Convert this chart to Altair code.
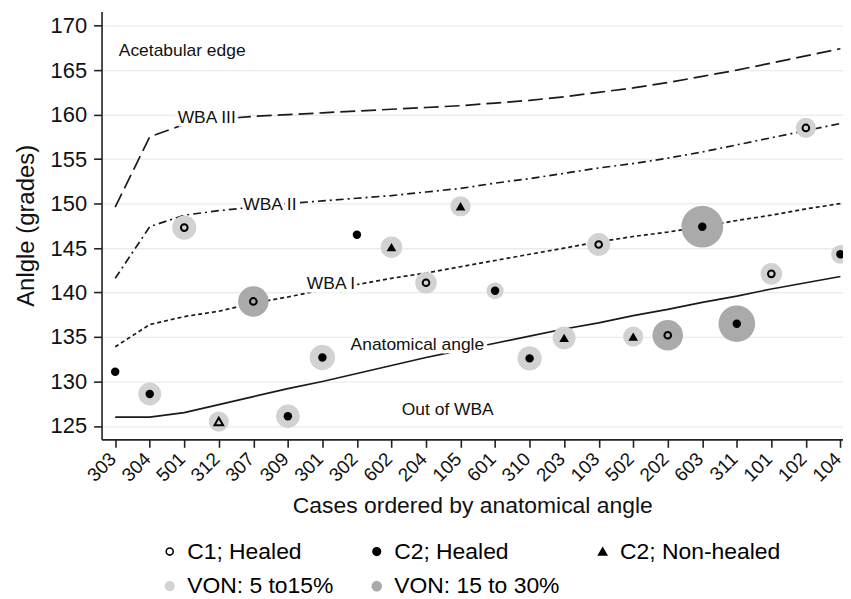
import altair as alt
import pandas as pd

# ---------------- data ----------------
cases = ["303", "304", "501", "312", "307", "309", "301", "302", "602", "204", "105",
         "601", "310", "203", "103", "502", "202", "603", "311", "101", "102", "104"]

anatomical = [126.0, 126.0, 126.5, 127.4, 128.3, 129.2, 130.0, 130.9, 131.8, 132.7, 133.5,
              134.3, 135.1, 135.9, 136.6, 137.4, 138.1, 138.9, 139.6, 140.4, 141.1, 141.8]
wba1 = [133.9, 136.4, 137.3, 137.9, 138.8, 139.5, 140.3, 140.9, 141.6, 142.2, 142.9,
        143.6, 144.3, 145.0, 145.7, 146.3, 146.8, 147.4, 148.1, 148.7, 149.4, 150.0]
wba2 = [141.6, 147.4, 148.7, 149.2, 149.6, 150.0, 150.3, 150.6, 150.9, 151.3, 151.7,
        152.3, 152.8, 153.4, 154.0, 154.5, 155.1, 155.8, 156.6, 157.4, 158.2, 159.0]
wba3 = [149.6, 157.5, 158.9, 159.5, 159.8, 160.0, 160.2, 160.4, 160.6, 160.8, 161.0,
        161.3, 161.6, 162.0, 162.5, 163.0, 163.6, 164.3, 165.0, 165.8, 166.6, 167.4]

angle = [131.1, 128.6, 147.3, 125.5, 139.0, 126.1, 132.7, 146.5, 145.1, 141.1, 149.7,
         140.2, 132.6, 134.9, 145.4, 135.05, 135.2, 147.4, 136.5, 142.1, 158.5, 144.3]
status = ["C2; Healed", "C2; Healed", "C1; Healed", "C1; Non-healed", "C1; Healed",
          "C2; Healed", "C2; Healed", "C2; Healed", "C2; Non-healed", "C1; Healed",
          "C2; Non-healed", "C2; Healed", "C2; Healed", "C2; Non-healed", "C1; Healed",
          "C2; Non-healed", "C1; Healed", "C2; Healed", "C2; Healed", "C1; Healed",
          "C1; Healed", "C2; Healed"]
von = [0, 9, 10, 7, 16, 9.5, 11, 0, 8, 8, 7, 5, 10, 9, 9, 7, 16, 30, 23, 8, 7, 6]

ann_text = ["Acetabular edge", "WBA III", "WBA II", "WBA I", "Anatomical angle", "Out of WBA"]
ann_x = [1.94, 2.65, 4.48, 6.25, 8.75, 9.63]
ann_y = [167.16, 159.64, 149.8, 140.95, 134.1, 126.85]

legend_labels = ["C1; Healed", "C2; Healed", "C2; Non-healed", "VON: 5 to15%", "VON: 15 to 30%"]

# ---------------- tables ----------------
idx = list(range(len(cases)))
lines = pd.DataFrame({
    "idx": idx * 4,
    "value": anatomical + wba1 + wba2 + wba3,
    "series": ["Anatomical"] * 22 + ["WBA I"] * 22 + ["WBA II"] * 22 + ["WBA III"] * 22,
})
pts = pd.DataFrame({"idx": idx, "case": cases, "angle": angle, "status": status, "von": von})
ann = pd.DataFrame({"idx": ann_x, "angle": ann_y, "text": ann_text})
leg = pd.DataFrame({"lg": legend_labels})

FONT = "Liberation Sans"
label_arr = "[" + ",".join("'%s'" % c for c in cases) + "]"

X = alt.X("idx:Q",
          scale=alt.Scale(domain=[-0.395, 21.075], nice=False, zero=False),
          axis=alt.Axis(values=idx, labelExpr=label_arr + "[datum.value]", labelAngle=-45,
                        grid=False, title="Cases ordered by anatomical angle",
                        labelFontSize=19, titleFontSize=23, labelPadding=2, titlePadding=10,
                        labelOffset=-9, tickSize=8, labelOverlap=False, labelBound=False,
                        labelFlush=False))
Y_SCALE = alt.Scale(domain=[123.5, 171.6], nice=False, zero=False)
Y_AXIS = alt.Axis(values=list(range(125, 171, 5)), title="Anlgle (grades)", grid=True,
                  labelFontSize=22, titleFontSize=24, tickSize=8, labelPadding=7,
                  titlePadding=12, labelOverlap=False)


def ylin(field):
    return alt.Y(field, scale=Y_SCALE, axis=Y_AXIS)


def line_layer(name, dash):
    m = alt.Chart(lines).transform_filter(alt.datum.series == name)
    kw = dict(color="#1a1a1a", strokeWidth=1.7)
    if dash:
        kw["strokeDash"] = dash
    return m.mark_line(**kw).encode(x=X, y=ylin("value:Q"))


l_anat = line_layer("Anatomical", None)
l_w1 = line_layer("WBA I", [4, 3])
l_w2 = line_layer("WBA II", [8, 4, 2, 4])
l_w3 = line_layer("WBA III", [15, 6])

ann_bg = alt.Chart(ann).mark_text(font=FONT, fontSize=17.5, color="white", stroke="white",
                                  strokeWidth=7).encode(x=X, y=ylin("angle:Q"), text="text:N")
ann_fg = alt.Chart(ann).mark_text(font=FONT, fontSize=17.5, color="#111").encode(
    x=X, y=ylin("angle:Q"), text="text:N")

halo_base = alt.Chart(pts).transform_filter("datum.von > 0")
SIZE = alt.Size("von:Q", scale=alt.Scale(domain=[0, 30], range=[0, 1764], zero=True), legend=None)
halo_light = halo_base.transform_filter("datum.von < 15").mark_circle(
    color="#d2d2d2", opacity=1).encode(x=X, y=ylin("angle:Q"), size=SIZE)
halo_dark = halo_base.transform_filter("datum.von >= 15").mark_circle(
    color="#aaaaaa", opacity=1).encode(x=X, y=ylin("angle:Q"), size=SIZE)

p_c1h = alt.Chart(pts).transform_filter(alt.datum.status == "C1; Healed").mark_point(
    shape="circle", filled=False, color="#000", strokeWidth=2, size=45, opacity=1
).encode(x=X, y=ylin("angle:Q"))
p_c2h = alt.Chart(pts).transform_filter(alt.datum.status == "C2; Healed").mark_circle(
    color="#000", size=72, opacity=1).encode(x=X, y=ylin("angle:Q"))
p_c2n = alt.Chart(pts).transform_filter(alt.datum.status == "C2; Non-healed").mark_point(
    shape="triangle-up", filled=True, color="#000", size=95, opacity=1
).encode(x=X, y=ylin("angle:Q"))
p_c1n = alt.Chart(pts).transform_filter(alt.datum.status == "C1; Non-healed").mark_point(
    shape="triangle-up", filled=False, color="#000", strokeWidth=2, size=75, opacity=1
).encode(x=X, y=ylin("angle:Q"))

# legend-only layer (draws nothing, legend comes from explicit scale domains)
legend_def = alt.Legend(orient="none", legendX=57, legendY=531, columns=3,
                        direction="horizontal", title=None, labelFontSize=23,
                        labelFont=FONT, columnPadding=31, rowPadding=11,
                        symbolStrokeWidth=1.6, labelOffset=6, labelColor="#000",
                        labelLimit=400)
leg_layer = alt.Chart(leg).transform_filter("false").mark_point(filled=True, opacity=1).encode(
    x=X, y=ylin("idx:Q"),
    fill=alt.Fill("lg:N", scale=alt.Scale(domain=legend_labels,
                                          range=["#ffffff", "#000000", "#000000", "#d2d2d2", "#aaaaaa"]),
                  legend=legend_def),
    stroke=alt.Stroke("lg:N", scale=alt.Scale(domain=legend_labels,
                                              range=["#000000", "#000000", "#000000", "#d2d2d2", "#aaaaaa"]),
                      legend=legend_def),
    shape=alt.Shape("lg:N", scale=alt.Scale(domain=legend_labels,
                                            range=["circle", "circle", "triangle-up", "circle", "circle"]),
                    legend=legend_def),
    size=alt.Size("lg:N", scale=alt.Scale(domain=legend_labels, range=[50, 81, 110, 81, 484]),
                  legend=legend_def),
)

chart = alt.layer(
    l_anat, l_w1, l_w2, l_w3, ann_bg, ann_fg,
    halo_light, halo_dark, p_c1h, p_c2h, p_c2n, p_c1n, leg_layer
).resolve_scale(
    size="independent", fill="independent", stroke="independent", shape="independent"
).properties(
    width=745, height=430, autosize="none",
    padding={"left": 94, "top": 2, "right": 0, "bottom": 159},
).configure_view(stroke=None).configure_axis(
    labelFont=FONT, titleFont=FONT, labelColor="#111", titleColor="#111",
    domainColor="#222", tickColor="#222", domainWidth=1.6, tickWidth=1.6,
    gridColor="#e4eeee", gridWidth=1.3, titleFontWeight="normal",
)

chart.save("out.html", embed_options={"renderer": "svg", "actions": False})
